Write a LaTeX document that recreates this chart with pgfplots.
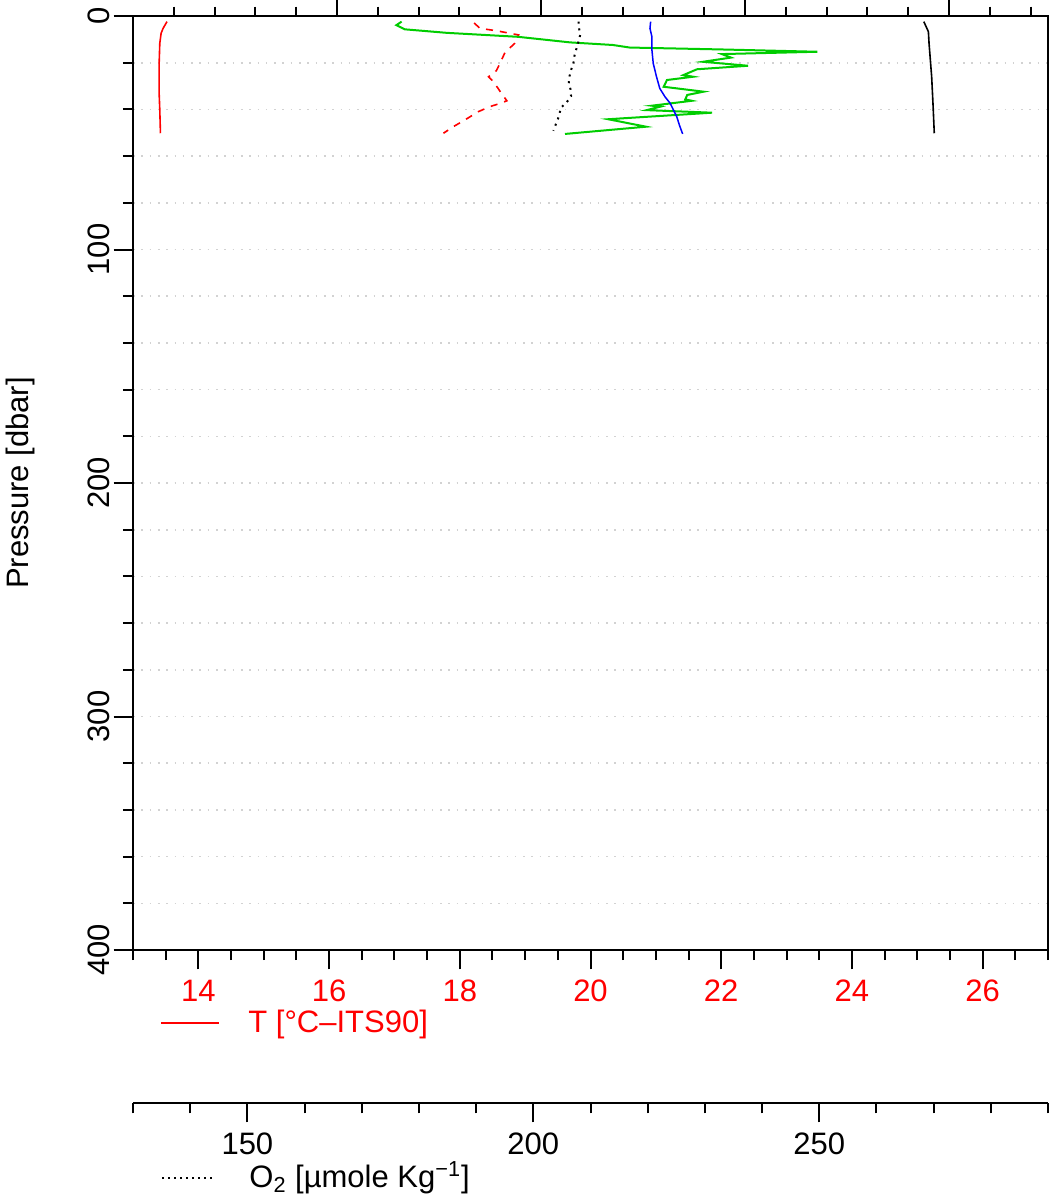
\documentclass[border=0pt]{standalone}
\usepackage{pgfplots}
\pgfplotsset{compat=1.18}
\usepackage{fontspec}
\setmainfont{Liberation Sans}
\definecolor{grn}{RGB}{0,205,0}
\newcommand{\lbl}{\fontsize{15.5}{18}\selectfont}
\begin{document}
\begin{tikzpicture}
% main axis: T and pressure
\begin{axis}[
  at={(66.5pt,-475pt)}, anchor=south west,
  scale only axis, width=457.5pt, height=467pt,
  xmin=13, xmax=27, ymin=0, ymax=400, y dir=reverse,
  axis line style={line width=1pt},
  xtick={14,16,...,26}, minor xtick={13,13.5,...,27},
  ytick={0,100,...,400}, minor ytick={20,40,...,380},
  xtick pos=left, ytick pos=left,
  tick align=outside,
  major tick length=9.7pt, minor tick length=5pt,
  tick style={line width=1pt, black},
  ymajorgrids, yminorgrids,
  major grid style={gray!35, line width=0.8pt, dash pattern=on 0.8pt off 3.35pt},
  minor grid style={gray!35, line width=0.8pt, dash pattern=on 0.8pt off 3.35pt},
  /pgf/number format/assume math mode=true,
  ticklabel style={font=\lbl},
  xticklabel style={red, anchor=north, inner sep=5pt},
  yticklabel style={rotate=90, anchor=south, inner sep=1.8pt},
]
\addplot[red, line width=0.8pt] coordinates {
(13.52,2.4) (13.46,5.3) (13.43,7.4) (13.41,11.7) (13.40,20.3) (13.40,33.1) (13.41,40.3) (13.42,50.2)};
\addplot[red, line width=0.8pt, dash pattern=on 3.5pt off 3.5pt] coordinates {
(18.22,3.0) (18.31,5.3) (18.56,6.3) (18.90,8.1) (18.84,11.7) (18.69,15.7) (18.62,20.0) (18.56,23.4) (18.44,26.0) (18.52,28.3) (18.62,32.4) (18.72,36.3) (18.62,37.4) (18.46,38.8) (18.28,41.0) (18.16,43.1) (18.03,45.3) (17.90,47.4) (17.75,50.2)};
\addplot[grn, line width=1pt] coordinates {
(17.11,2.4) (17.03,3.9) (17.16,5.7) (17.80,7.2) (18.89,8.9) (19.69,11.3) (20.34,12.4) (20.60,13.5) (21.98,14.3) (23.47,15.3) (22.01,16.3) (22.15,17.8) (21.72,19.6) (22.41,21.3) (21.63,22.8) (21.42,25.3) (21.57,26.0) (21.17,27.4) (21.12,30.3) (21.73,32.4) (21.48,33.8) (21.45,35.7) (21.55,36.3) (20.94,38.4) (21.07,38.8) (20.86,40.3) (21.86,41.4) (20.27,44.2) (20.85,47.4) (19.61,50.5)};
\addplot[blue, line width=0.75pt] coordinates {
(20.92,2.4) (20.91,5.3) (20.94,8.9) (20.94,14.6) (20.96,20.3) (21.01,26.0) (21.06,31.0) (21.14,34.6) (21.22,37.4) (21.27,40.3) (21.32,43.1) (21.36,46.7) (21.41,50.5)};
\addplot[black, line width=0.8pt] coordinates {
(25.10,2.4) (25.17,6.7) (25.18,11.7) (25.22,26.0) (25.24,37.4) (25.26,50.2)};
\end{axis}
% overlay axis for O2 data
\begin{axis}[
  at={(66.5pt,-475pt)}, anchor=south west,
  scale only axis, width=457.5pt, height=467pt,
  xmin=130, xmax=290, ymin=0, ymax=400, y dir=reverse,
  hide axis,
]
\addplot[black, line width=1pt, dash pattern=on 1pt off 2.4pt] coordinates {
(207.9,2.4) (208.0,5.3) (208.2,8.1) (207.9,11.0) (207.5,14.3) (207.2,17.0) (207.0,20.3) (206.6,23.1) (206.3,26.0) (206.2,28.8) (206.5,31.3) (206.6,34.3) (205.8,37.1) (204.8,39.3) (204.5,42.8) (204.0,46.0) (203.5,49.1)};
\end{axis}
% top ticks (upper axes, cut off)
\begin{axis}[
  at={(66.5pt,-475pt)}, anchor=south west,
  scale only axis, width=457.5pt, height=467pt,
  xmin=0, xmax=4.485, ymin=0, ymax=1,
  axis x line*=top, axis y line=none,
  axis line style={line width=1pt},
  xtick={1,2,3,4}, minor xtick={0.2,0.4,...,4.41},
  xticklabels={},
  tick align=outside,
  major tick length=12pt, minor tick length=4.7pt,
  tick style={line width=1pt, black},
]
\addplot[draw=none] coordinates {(0,0)};
\end{axis}
% O2 scale
\begin{axis}[
  at={(66.5pt,-551.65pt)}, anchor=south west,
  scale only axis, width=457.5pt, height=20pt,
  xmin=130, xmax=290, ymin=0, ymax=1,
  axis x line*=bottom, axis y line=none,
  axis line style={line width=1pt},
  xtick={150,200,250}, minor xtick={130,140,...,290},
  tick align=outside,
  major tick length=9.5pt, minor tick length=5pt,
  tick style={line width=1pt, black},
  /pgf/number format/assume math mode=true,
  ticklabel style={font=\lbl},
  xticklabel style={anchor=north, inner sep=5pt},
]
\addplot[draw=none] coordinates {(150,0)};
\end{axis}
% legends and labels
\draw[red, line width=0.8pt] (80.5pt,-511.5pt) -- (109.5pt,-511.5pt);
\node[anchor=base west, inner sep=0pt, red, font=\lbl] at (124pt,-516pt) {T [°C–ITS90]};
\draw[black, line width=0.8pt, dash pattern=on 0.8pt off 2.2pt] (81pt,-589pt) -- (107pt,-589pt);
\node[anchor=base west, inner sep=0pt, font=\lbl] at (124.5pt,-593.5pt) {O\textsubscript{2} [µmole Kg\textsuperscript{−1}]};
\node[rotate=90, font=\lbl] at (10pt,-241.5pt) {Pressure [dbar]};
\pgfresetboundingbox
\useasboundingbox (0pt,0pt) rectangle (531pt,-600.5pt);
\end{tikzpicture}
\end{document}
